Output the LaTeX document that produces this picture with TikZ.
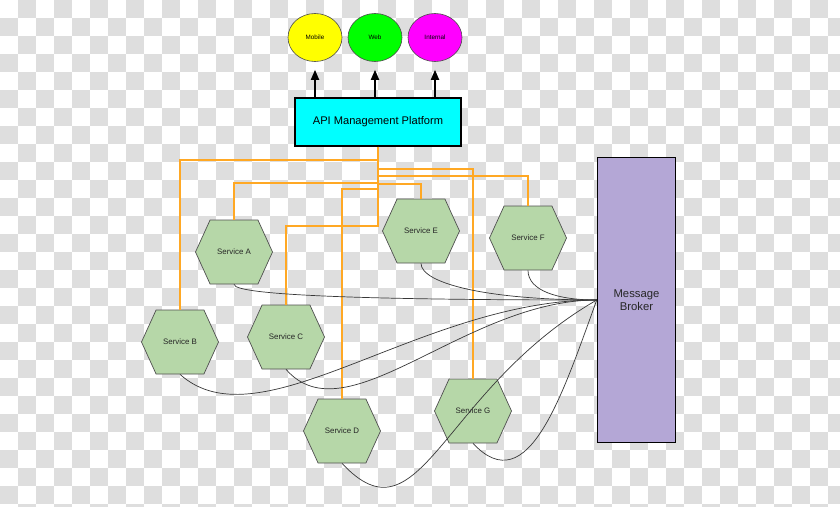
\documentclass[tikz,border=0pt]{standalone}
\usepackage{fontspec}
\setmainfont{Liberation Sans}
\usetikzlibrary{arrows.meta,shapes.geometric,shapes.symbols}
\definecolor{checkgray}{RGB}{222,222,222}
\definecolor{apicyan}{RGB}{0,255,255}
\definecolor{chmobile}{RGB}{255,255,0}
\definecolor{chweb}{RGB}{0,255,0}
\definecolor{chinternal}{RGB}{255,0,255}
\definecolor{svcgreen}{RGB}{182,215,168}
\definecolor{svcedge}{RGB}{80,80,80}
\definecolor{brokerpurple}{RGB}{180,167,214}
\definecolor{wireorange}{RGB}{255,168,36}

\begin{document}
\begin{tikzpicture}[x=1pt,y=1pt,
  channel/.style={ellipse,draw=black!70,line width=0.6pt,minimum width=54pt,minimum height=48pt,inner sep=0pt,font=\fontsize{6.3}{7}\selectfont},
  service/.style={signal,signal to=west and east,signal pointer angle=131,draw=svcedge,line width=0.7pt,fill=svcgreen,minimum width=77pt,minimum height=64pt,inner sep=0pt,text=black!85,font=\fontsize{7.9}{9}\selectfont},
  wire/.style={wireorange,line width=1.4pt},
  bus/.style={black!78,line width=0.7pt},
  push/.style={line width=1.8pt,-{Triangle[width=8pt,length=10pt]}}]
  \useasboundingbox (0,0) rectangle (840,507);
  % transparency checkerboard
  \fill[white] (0,0) rectangle (840,507);
  \foreach \i in {0,...,46} {
    \foreach \j in {0,...,28} {
      \pgfmathtruncatemacro\k{mod(\i+\j,2)}
      \ifnum\k=1 \fill[checkgray] (\i*18,{max(507-\j*18-18,0)}) rectangle (\i*18+18,507-\j*18); \fi
    }
  }
  % channels and platform
  \node[channel,fill=chmobile] (mobile) at (315,469.5) {Mobile};
  \node[channel,fill=chweb] (web) at (375,469.5) {Web};
  \node[channel,fill=chinternal] (internal) at (435,469.5) {Internal};
  \node[draw=black,line width=1.6pt,fill=apicyan,minimum width=166pt,minimum height=48pt,font=\fontsize{11.1}{13}\selectfont] (api) at (378,385) {API Management Platform};
  \draw[push] (api.north -| mobile) -- ([yshift=-8pt]mobile.south);
  \draw[push] (api.north -| web) -- ([yshift=-8pt]web.south);
  \draw[push] (api.north -| internal) -- ([yshift=-8pt]internal.south);
  % services and broker
  \node[service] (svcA) at (234,255) {Service A};
  \node[service] (svcB) at (180,165) {Service B};
  \node[service] (svcC) at (286,170) {Service C};
  \node[service] (svcD) at (342,76) {Service D};
  \node[service] (svcE) at (421,276) {Service E};
  \node[service] (svcF) at (528,269) {Service F};
  \node[service] (svcG) at (473,96) {Service G};
  \node[draw=black,line width=1.5pt,fill=brokerpurple,minimum width=78pt,minimum height=285pt,align=center,text=black!85,font=\fontsize{11.3}{12.5}\selectfont] (broker) at (636.5,207) {Message\\Broker};
  % platform wiring
  \draw[wire] (api.south) -- ++(0,-13) -| (svcB.north);
  \draw[wire] (api.south) -- ++(0,-22) -| (svcG.north);
  \draw[wire] (api.south) -- ++(0,-29) -| (svcF.north);
  \draw[wire] (api.south) -- ++(0,-36) -| (svcA.north);
  \draw[wire] (api.south) -- ++(0,-37) -| (svcE.north);
  \draw[wire] (api.south) -- ++(0,-42) -| (svcD.north);
  \draw[wire] (api.south) -- ++(0,-79) -| (svcC.north);
  % broker links
  \draw[bus] (svcA.south) to[out=-90,in=180,out distance=12pt,in distance=200pt] (broker.west);
  \draw[bus] (svcE.south) to[out=-90,in=180,out distance=20pt,in distance=110pt] (broker.west);
  \draw[bus] (svcF.south) to[out=-90,in=180,out distance=20pt,in distance=40pt] (broker.west);
  \draw[bus] (svcB.south) to[out=-42,in=180,out distance=108pt,in distance=177pt] (broker.west);
  \draw[bus] (svcC.south) to[out=-49,in=180,out distance=92pt,in distance=132pt] (broker.west);
  \draw[bus] (svcD.south) to[out=-47,in=210,out distance=115pt,in distance=180pt] (broker.west);
  \draw[bus] (svcG.south) to[out=-47,in=250,out distance=81pt,in distance=100pt] (broker.west);
\end{tikzpicture}
\end{document}
